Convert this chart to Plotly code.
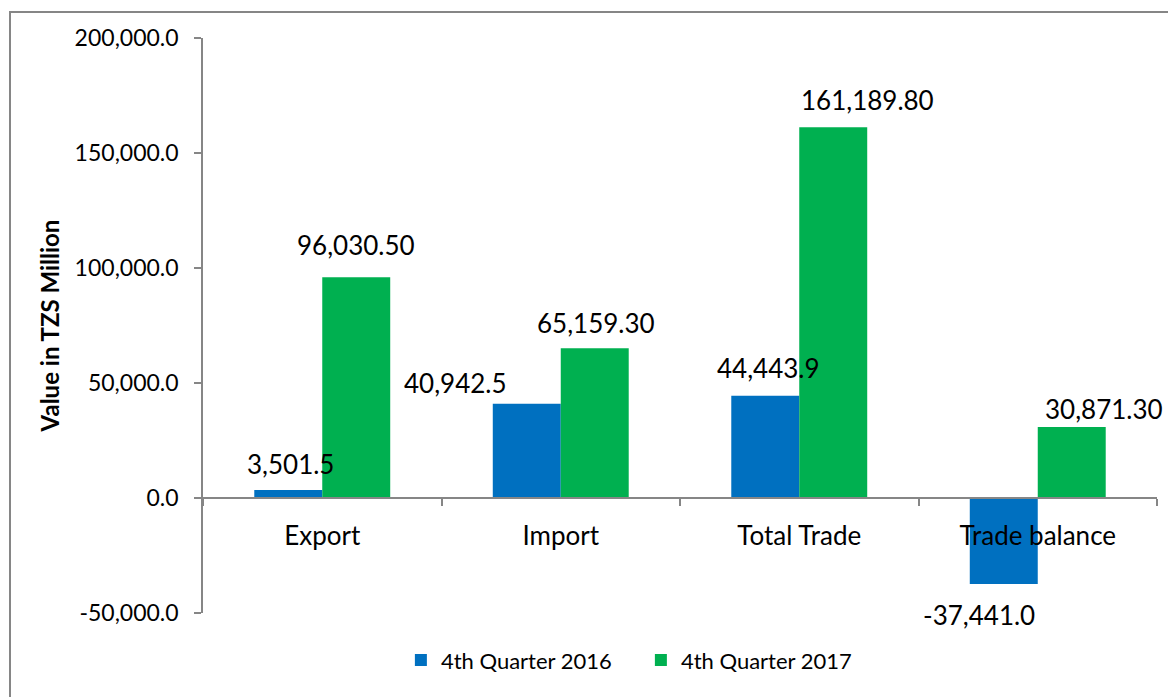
import plotly.graph_objects as go

# ---- data ----
categories = ["Export", "Import", "Total Trade", "Trade balance"]
q4_2016 = [3501.5, 40942.5, 44443.9, -37441.0]
q4_2017 = [96030.50, 65159.30, 161189.80, 30871.30]
labels_2016 = ["3,501.5", "40,942.5", "44,443.9", "-37,441.0"]
labels_2017 = ["96,030.50", "65,159.30", "161,189.80", "30,871.30"]
series_names = ["4th Quarter 2016", "4th Quarter 2017"]
y_ticks = [-50000, 0, 50000, 100000, 150000, 200000]
y_tick_text = [f"{v:,.1f}" for v in y_ticks]

# ---- style ----
BLUE = "#0070C0"
GREEN = "#00B050"
GRAY = "#868686"
FONT = "Lato"
# pixel nudges of the data labels (x, y), as placed in the original
nudge_2016 = [(2, 8), (-71, 3), (3, 10), (-25, -13)]
nudge_2017 = [(0, 14), (1, 7), (34, 9), (32, 0)]

fig = go.Figure()
fig.add_trace(go.Bar(x=categories, y=q4_2016, name=series_names[0],
                     marker=dict(color=BLUE, line=dict(width=0))))
fig.add_trace(go.Bar(x=categories, y=q4_2017, name=series_names[1],
                     marker=dict(color=GREEN, line=dict(width=0))))

group_half = 34  # half of one bar width in px
for vals, labs, nudges, side in ((q4_2016, labels_2016, nudge_2016, -1),
                                 (q4_2017, labels_2017, nudge_2017, 1)):
    for c, v, t, (dx, dy) in zip(categories, vals, labs, nudges):
        fig.add_annotation(x=c, y=v, text=t, showarrow=False,
                           xshift=side * group_half + dx, yshift=dy,
                           yanchor="bottom" if v >= 0 else "top",
                           font=dict(family=FONT, size=26, color="#000000"))

fig.add_shape(type="rect", xref="paper", yref="paper",
              x0=-0.2023, x1=1.3, y0=-0.4, y1=1.0452,
              line=dict(color=GRAY, width=2), layer="below")

fig.update_layout(
    width=1168, height=689,
    margin=dict(l=195, r=19, t=30, b=84, autoexpand=False),
    paper_bgcolor="white", plot_bgcolor="white",
    barmode="group", bargap=0.43, bargroupgap=0,
    font=dict(family=FONT, size=23, color="#000000"),
    legend=dict(orientation="h", x=0.459, xanchor="center", y=-0.082,
                yanchor="middle", font=dict(family=FONT, size=22),
                itemwidth=30, entrywidth=195, entrywidthmode="pixels"),
    showlegend=True,
)
fig.update_yaxes(range=[-50000, 200000], autorange=False,
                 tickvals=y_ticks, ticktext=y_tick_text,
                 showgrid=False, zeroline=False, showline=True, automargin=False,
                 linecolor=GRAY, linewidth=1.5, ticks="outside", ticklen=7,
                 tickcolor=GRAY, tickwidth=1.5, ticklabelstandoff=11,
                 tickfont=dict(family=FONT, size=23),
                 title=dict(text="<b>Value in TZS Million</b>", standoff=8,
                            font=dict(family=FONT, size=24)))
fig.update_xaxes(type="category", range=[-0.5, len(categories) - 0.5],
                 autorange=False, anchor="free", position=0.2, automargin=False,
                 showline=True, linecolor=GRAY, linewidth=1.5,
                 ticks="outside", ticklen=7, tickcolor=GRAY, tickwidth=1.5,
                 tickson="boundaries", showgrid=False, ticklabelstandoff=15,
                 tickfont=dict(family=FONT, size=26))

fig.write_html("out.html")
